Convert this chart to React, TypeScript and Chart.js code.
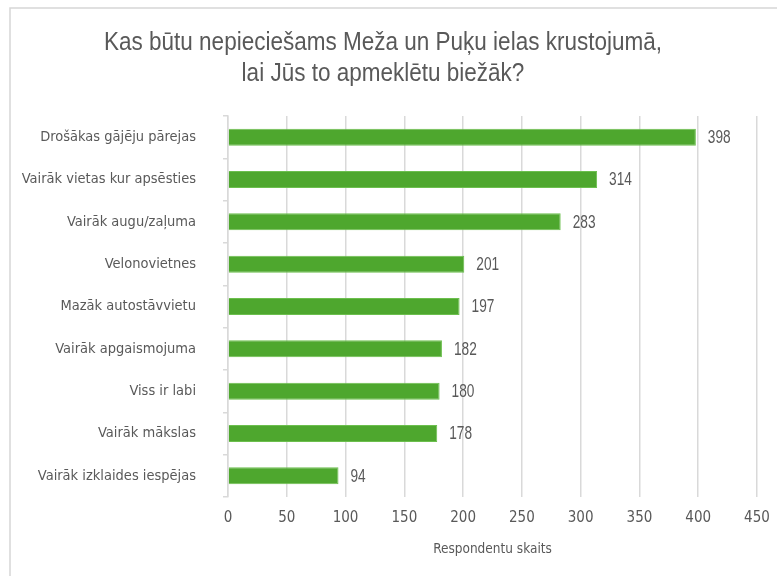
import React, { useEffect, useRef } from "react";
import { Chart, registerables } from "chart.js";

Chart.register(...registerables);

const titleLines = [
  "Kas būtu nepieciešams Meža un Puķu ielas krustojumā,",
  "lai Jūs to apmeklētu biežāk?",
];
const categories = [
  "Drošākas gājēju pārejas",
  "Vairāk vietas kur apsēsties",
  "Vairāk augu/zaļuma",
  "Velonovietnes",
  "Mazāk autostāvvietu",
  "Vairāk apgaismojuma",
  "Viss ir labi",
  "Vairāk mākslas",
  "Vairāk izklaides iespējas",
];
const values = [398, 314, 283, 201, 197, 182, 180, 178, 94];
const xAxisTitle = "Respondentu skaits";

const FONT = "'DejaVu Sans Condensed', 'Liberation Sans', sans-serif";
const NARROW = "'Liberation Sans', Arial, sans-serif";
const TEXT = "#595959";
const GRID = "#d9d9d9";

function narrowText(ctx: any, text: string, x: number, y: number, sx: number, align: string) {
  ctx.save();
  ctx.translate(x, y);
  ctx.scale(sx, 1);
  ctx.textAlign = align;
  ctx.fillText(text, 0, 0);
  ctx.restore();
}

const framePlugin = {
  id: "frameAndTitle",
  beforeDraw(chart: any) {
    const ctx = chart.ctx;
    ctx.save();
    ctx.fillStyle = "#ffffff";
    ctx.fillRect(0, 0, chart.width, chart.height);
    ctx.strokeStyle = "#d6d6d6";
    ctx.lineWidth = 1.5;
    ctx.beginPath();
    ctx.moveTo(10, chart.height);
    ctx.lineTo(10, 8);
    ctx.lineTo(chart.width, 8);
    ctx.stroke();
    ctx.fillStyle = TEXT;
    ctx.font = `25px ${NARROW}`;
    ctx.textBaseline = "middle";
    const w = ctx.measureText(titleLines[0]).width;
    const sx = 558 / w;
    narrowText(ctx, titleLines[0], 383, 43, sx, "center");
    narrowText(ctx, titleLines[1], 383, 74, sx, "center");
    ctx.restore();
  },
  afterDatasetsDraw(chart: any) {
    const ctx = chart.ctx;
    const meta = chart.getDatasetMeta(0);
    ctx.save();
    ctx.fillStyle = TEXT;
    ctx.font = `18px ${NARROW}`;
    ctx.textBaseline = "middle";
    meta.data.forEach((bar: any, i: number) => {
      narrowText(ctx, String(values[i]), bar.x + 12, bar.y + 1, 0.76, "left");
    });
    ctx.restore();
  },
};

export default function App() {
  const ref = useRef<HTMLCanvasElement>(null);
  useEffect(() => {
    if (!ref.current) return;
    const chart = new Chart(ref.current, {
      type: "bar",
      data: {
        labels: categories,
        datasets: [
          {
            data: values,
            backgroundColor: "#4ea72e",
            borderColor: "#6cbf4e",
            borderWidth: 1,
            categoryPercentage: 1,
            barPercentage: 0.4,
          },
        ],
      },
      options: {
        indexAxis: "y",
        animation: false,
        responsive: false,
        devicePixelRatio: 1,
        layout: { padding: { top: 116, right: 20, bottom: 18, left: 0 } },
        plugins: { legend: { display: false }, tooltip: { enabled: false }, title: { display: false } },
        scales: {
          x: {
            min: 0,
            max: 450,
            ticks: { stepSize: 50, color: TEXT, font: { family: FONT, size: 15 }, padding: 12 },
            grid: { color: GRID, lineWidth: 1.5, drawTicks: false },
            border: { display: false },
            title: { display: true, text: xAxisTitle, color: TEXT, font: { family: FONT, size: 13.5 }, padding: { top: 6, bottom: 0 } },
            afterFit(scale: any) {
              scale.height = 61;
              scale.paddingRight = 0;
              scale.paddingLeft = 0;
            },
          },
          y: {
            ticks: { color: TEXT, font: { family: FONT, size: 14.5 }, padding: 27 },
            grid: { color: GRID, lineWidth: 1.5, drawOnChartArea: false, drawTicks: true, tickLength: 5 },
            border: { display: true, color: GRID, width: 1.5 },
            afterFit(scale: any) {
              scale.width = 228;
              scale.paddingTop = 0;
              scale.paddingBottom = 0;
            },
          },
        },
      },
      plugins: [framePlugin],
    } as any);
    return () => chart.destroy();
  }, []);
  return (
    <div style={{ position: "fixed", left: 0, top: 0, width: 777, height: 576, background: "#fff" }}>
      <canvas ref={ref} width={777} height={576} style={{ width: 777, height: 576, display: "block" }} />
    </div>
  );
}
